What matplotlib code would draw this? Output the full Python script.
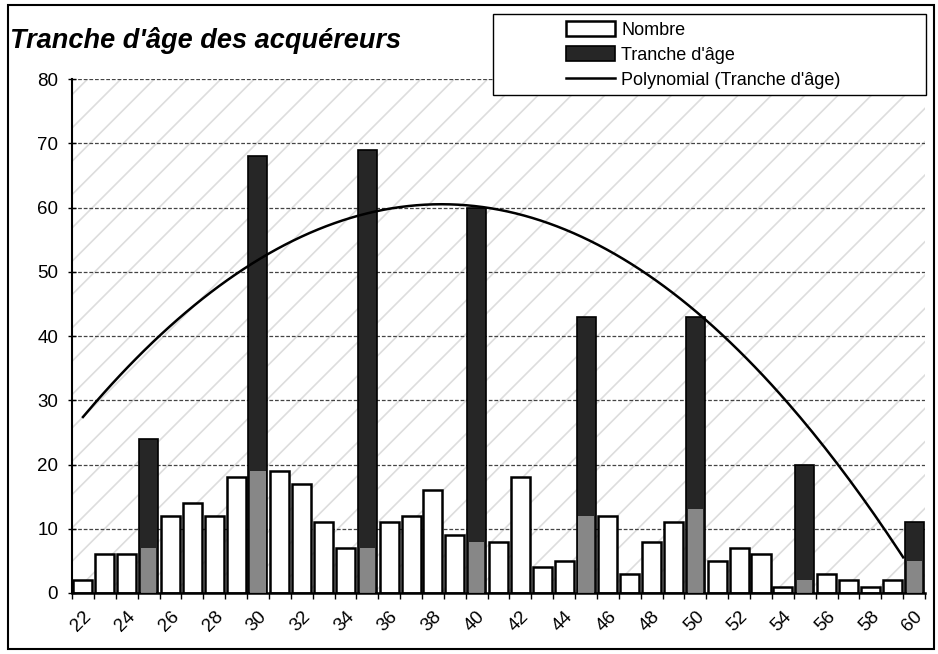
import matplotlib
matplotlib.use('Agg')
import matplotlib.pyplot as plt
import matplotlib.transforms as mtransforms
import numpy as np
from matplotlib.patches import Rectangle

# donnees
ages = list(range(22, 61))
nombre = [2, 6, 6, 7, 12, 14, 12, 18, 19, 19, 17, 11, 7, 7, 11, 12, 16, 9, 8, 8,
          18, 4, 5, 12, 12, 3, 8, 11, 13, 5, 7, 6, 1, 2, 3, 2, 1, 2, 5]
tranche_ages = [25, 30, 35, 40, 45, 50, 55, 60]
tranche = [24, 68, 69, 60, 43, 43, 20, 11]
tick_labels = [str(a) for a in range(22, 61, 2)]

plt.rcParams['font.family'] = ['Liberation Sans', 'DejaVu Sans']
plt.rcParams['hatch.linewidth'] = 1.2

fig = plt.figure(figsize=(9.38, 6.54), dpi=100)
ax = fig.add_axes([0.0768, 0.0933, 0.9094, 0.7857])

x = np.arange(len(ages))
xt = np.array([ages.index(a) for a in tranche_ages])

# fond texture
ax.add_patch(Rectangle((0, 0), 1, 1, transform=ax.transAxes, facecolor='white',
                       hatch='/', edgecolor='#dddddd', lw=0, zorder=0))

ax.set_axisbelow(True)
ax.yaxis.grid(True, color='#444444', lw=0.9, ls=(0, (3, 1.5)), zorder=1)

w = 0.87
masque = np.isin(x, xt)
b1 = ax.bar(x[~masque], np.array(nombre)[~masque], width=w, color='white',
            edgecolor='black', lw=1.8, zorder=2)
b2 = ax.bar(xt, tranche, width=w, color='#262626', edgecolor='black', lw=1.2,
            zorder=3)
# partie plus claire en bas des barres sombres (Nombre cache)
ax.bar(x[masque], np.array(nombre)[masque], width=w * 0.8, color='white',
       alpha=0.45, edgecolor='none', zorder=4)

# courbe de tendance polynomiale (ordre 2)
coef = np.polyfit(xt, tranche, 2)
xx = np.linspace(0, 37.5, 200)
l1, = ax.plot(xx, np.polyval(coef, xx), color='black', lw=1.8, zorder=5)

ax.set_xlim(-0.5, len(ages) - 0.5)
ax.set_ylim(0, 80)
ax.set_yticks(range(0, 81, 10))
ax.set_xticks(x[::2])
ax.set_xticklabels(tick_labels, rotation=45, ha='right', va='top',
                   rotation_mode='anchor', fontsize=13.5)
decal = mtransforms.ScaledTranslation(-0.16, 0, fig.dpi_scale_trans)
for lab in ax.get_xticklabels():
    lab.set_transform(lab.get_transform() + decal)
ax.set_xticks(np.arange(-0.5, len(ages), 1), minor=True)
ax.tick_params(axis='x', which='major', length=0, pad=11)
ax.tick_params(axis='x', which='minor', length=4, width=1)
ax.tick_params(axis='y', length=6, width=1, direction='inout', labelsize=13.5, pad=7)
for s in ['top', 'right']:
    ax.spines[s].set_visible(False)
ax.spines['left'].set_linewidth(1.5)
ax.spines['bottom'].set_linewidth(1.8)

fig.text(0.011, 1 - 48 / 654, "Tranche d'âge des acquéreurs", fontsize=19.5,
         fontweight='bold', style='italic', va='baseline')

# cadre de la legende
fig.add_artist(Rectangle((493 / 938, 1 - 95 / 654), 433 / 938, 81 / 654,
                         transform=fig.transFigure, facecolor='white',
                         edgecolor='black', lw=1.0, zorder=9))
leg = fig.legend([b1, b2, l1], ['Nombre', "Tranche d'âge", "Polynomial (Tranche d'âge)"],
                 loc='upper left', bbox_to_anchor=(566 / 938, 1 - 21 / 654),
                 fontsize=13, frameon=False, borderpad=0, labelspacing=0.42,
                 handlelength=2.7, handleheight=0.9, handletextpad=0.35,
                 borderaxespad=0)
leg.set_zorder(10)

# cadre exterieur
fig.add_artist(Rectangle((0.008, 0.008), 0.988, 0.984, transform=fig.transFigure,
                         fill=False, edgecolor='black', lw=1.5))

fig.savefig('out.png', dpi=100)
